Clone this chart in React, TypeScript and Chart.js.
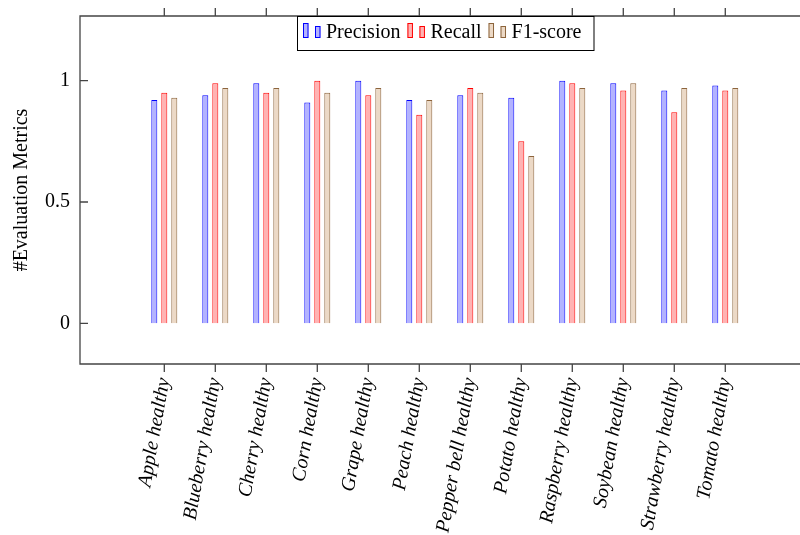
import React, { useEffect, useRef } from 'react';
import { Chart, registerables } from 'chart.js';

Chart.register(...registerables);

const CATEGORIES = [
  'Apple healthy',
  'Blueberry healthy',
  'Cherry healthy',
  'Corn healthy',
  'Grape healthy',
  'Peach healthy',
  'Pepper bell healthy',
  'Potato healthy',
  'Raspberry healthy',
  'Soybean healthy',
  'Strawberry healthy',
  'Tomato healthy',
];
const PRECISION = [0.92, 0.94, 0.99, 0.91, 1.0, 0.92, 0.94, 0.93, 1.0, 0.99, 0.96, 0.98];
const RECALL = [0.95, 0.99, 0.95, 1.0, 0.94, 0.86, 0.97, 0.75, 0.99, 0.96, 0.87, 0.96];
const F1_SCORE = [0.93, 0.97, 0.97, 0.95, 0.97, 0.92, 0.95, 0.69, 0.97, 0.99, 0.97, 0.97];
const SERIES_LABELS = ['Precision', 'Recall', 'F1-score'];
const Y_TICKS = [0, 0.5, 1];
const Y_TITLE = '#Evaluation Metrics';

const FONT = '"Liberation Serif", "DejaVu Serif", serif';

const COLORS = [
  { fill: 'rgb(179,179,255)', border: 'rgb(0,0,255)' },
  { fill: 'rgb(255,179,179)', border: 'rgb(255,0,0)' },
  { fill: 'rgb(236,217,198)', border: 'rgb(140,100,60)' },
];

const framePlugin = {
  id: 'frame',
  afterDraw(chart: any) {
    const { ctx, chartArea: a, scales } = chart;
    const x = scales.x;
    const y = scales.y;
    ctx.save();
    ctx.strokeStyle = '#444';
    ctx.lineWidth = 1.3;
    ctx.beginPath();
    ctx.moveTo(a.right + 20, a.top);
    ctx.lineTo(a.left, a.top);
    ctx.lineTo(a.left, a.bottom);
    ctx.lineTo(a.right + 20, a.bottom);
    ctx.stroke();
    ctx.beginPath();
    CATEGORIES.forEach((_, i) => {
      const px = x.getPixelForValue(i);
      ctx.moveTo(px, a.bottom);
      ctx.lineTo(px, a.bottom + 8);
      ctx.moveTo(px, a.top);
      ctx.lineTo(px, a.top - 8);
    });
    Y_TICKS.forEach((v) => {
      const py = y.getPixelForValue(v);
      ctx.moveTo(a.left, py);
      ctx.lineTo(a.left + 8, py);
    });
    ctx.stroke();
    ctx.restore();
  },
};

const legendPlugin = {
  id: 'customLegend',
  afterDraw(chart: any) {
    const { ctx, chartArea: a, scales } = chart;
    const x = scales.x;
    ctx.save();
    ctx.font = `20px ${FONT}`;
    const iconW = 23;
    const padL = 6;
    const padR = 12;
    const gap = 7;
    const datasets = chart.data.datasets;
    const widths = datasets.map((d: any) => ctx.measureText(d.label).width);
    let total = padL + padR + gap * (datasets.length - 1);
    widths.forEach((w: number) => (total += iconW + w));
    const center = x.getPixelForValue((CATEGORIES.length - 1) / 2);
    const left = Math.round(center - total / 2);
    const top = a.top;
    const h = 34;
    ctx.fillStyle = '#fff';
    ctx.fillRect(left, top, total, h);
    ctx.strokeStyle = '#000';
    ctx.lineWidth = 1;
    ctx.strokeRect(left + 0.5, top + 0.5, total, h);
    const base = top + 22;
    let cx = left + padL;
    datasets.forEach((d: any, i: number) => {
      ctx.fillStyle = d.backgroundColor;
      ctx.strokeStyle = d.borderColor;
      ctx.lineWidth = 1;
      ctx.fillRect(cx, base - 15, 5.5, 15);
      ctx.strokeRect(cx + 0.5, base - 14.5, 4.5, 14);
      ctx.fillRect(cx + 12, base - 12, 5.5, 12);
      ctx.strokeRect(cx + 12.5, base - 11.5, 4.5, 11);
      ctx.fillStyle = '#000';
      ctx.textBaseline = 'alphabetic';
      ctx.textAlign = 'left';
      ctx.fillText(d.label, cx + iconW, base);
      cx += iconW + widths[i] + gap;
    });
    ctx.restore();
  },
};

export default function App() {
  const ref = useRef<HTMLCanvasElement | null>(null);

  useEffect(() => {
    if (!ref.current) return;
    const series = [PRECISION, RECALL, F1_SCORE];
    const chart = new Chart(ref.current, {
      type: 'bar',
      data: {
        datasets: series.map((vals, s) => ({
          label: SERIES_LABELS[s],
          data: vals.map((v, i) => ({ x: i, y: v })),
          backgroundColor: COLORS[s].fill,
          borderColor: COLORS[s].border,
          borderWidth: 1,
          categoryPercentage: 30 / 51,
          barPercentage: 0.6,
        })),
      },
      options: {
        responsive: false,
        animation: false,
        devicePixelRatio: 1,
        layout: { padding: { top: 16, left: 0, right: 0, bottom: 0 } },
        plugins: {
          legend: { display: false },
          tooltip: { enabled: false },
        },
        scales: {
          x: {
            type: 'linear',
            offset: false,
            min: -1.653,
            max: 12.465,
            grid: { display: false, drawTicks: false },
            border: { display: false },
            afterBuildTicks: (scale: any) => {
              scale.ticks = CATEGORIES.map((_, i) => ({ value: i }));
            },
            afterFit: (scale: any) => {
              scale.height = 171;
              scale.paddingLeft = 0;
              scale.paddingRight = 0;
            },
            ticks: {
              autoSkip: false,
              minRotation: 80,
              maxRotation: 80,
              padding: 12,
              color: '#000',
              font: { family: FONT, size: 20, style: 'italic' },
              callback: (v: any) => CATEGORIES[Math.round(Number(v))] ?? '',
            },
          },
          y: {
            min: -0.1678,
            max: 1.2667,
            grid: { display: false, drawTicks: false },
            border: { display: false },
            afterBuildTicks: (scale: any) => {
              scale.ticks = Y_TICKS.map((v) => ({ value: v }));
            },
            afterFit: (scale: any) => {
              scale.width = 80;
              scale.paddingTop = 0;
              scale.paddingBottom = 0;
            },
            ticks: {
              padding: 10,
              color: '#000',
              font: { family: FONT, size: 20 },
              callback: (v: any) => String(v),
            },
            title: {
              display: true,
              text: Y_TITLE,
              color: '#000',
              font: { family: FONT, size: 20 },
              padding: { top: 10, bottom: 0 },
            },
          },
        },
      },
      plugins: [framePlugin, legendPlugin],
    });
    let alive = true;
    const fonts: any = (document as any).fonts;
    if (fonts && fonts.load) {
      Promise.all([
        fonts.load('20px "Liberation Serif"'),
        fonts.load('italic 20px "Liberation Serif"'),
      ])
        .then(() => {
          if (alive) chart.update();
        })
        .catch(() => {});
    }
    return () => {
      alive = false;
      chart.destroy();
    };
  }, []);

  return (
    <div style={{ position: 'absolute', left: 0, top: 0, width: 800, height: 535, background: '#fff' }}>
      <canvas ref={ref} width={800} height={535} />
    </div>
  );
}
